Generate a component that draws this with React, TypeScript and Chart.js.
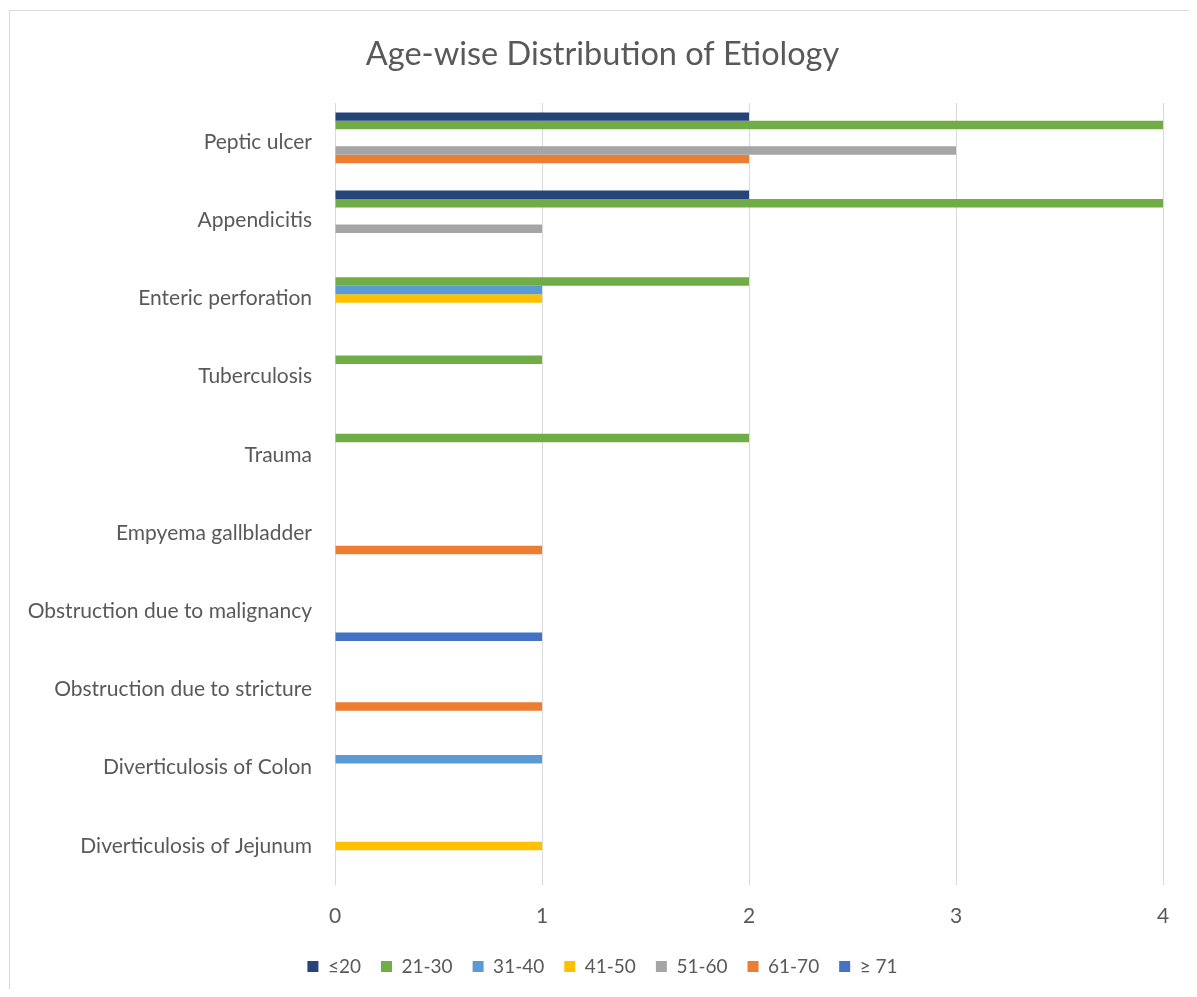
import { useEffect, useRef } from "react";
import { Chart, registerables } from "chart.js";

Chart.register(...registerables);

// Etiologies, top to bottom
const categories = [
  "Peptic ulcer",
  "Appendicitis",
  "Enteric perforation",
  "Tuberculosis",
  "Trauma",
  "Empyema gallbladder",
  "Obstruction due to malignancy",
  "Obstruction due to stricture",
  "Diverticulosis of Colon",
  "Diverticulosis of Jejunum",
];

// Number of cases per age group
const ageUpTo20 = [2, 2, 0, 0, 0, 0, 0, 0, 0, 0];
const age21to30 = [4, 4, 2, 1, 2, 0, 0, 0, 0, 0];
const age31to40 = [0, 0, 1, 0, 0, 0, 0, 0, 1, 0];
const age41to50 = [0, 0, 1, 0, 0, 0, 0, 0, 0, 1];
const age51to60 = [3, 1, 0, 0, 0, 0, 0, 0, 0, 0];
const age61to70 = [2, 0, 0, 0, 0, 1, 0, 1, 0, 0];
const age71plus = [0, 0, 0, 0, 0, 0, 1, 0, 0, 0];

const seriesLabels = ["≤20", "21-30", "31-40", "41-50", "51-60", "61-70", "≥ 71"];
const seriesValues = [ageUpTo20, age21to30, age31to40, age41to50, age51to60, age61to70, age71plus];
const seriesColors = ["#264478", "#70AD47", "#5B9BD5", "#FFC000", "#A5A5A5", "#ED7D31", "#4472C4"];

const xMin = 0;
const xMax = 4;
const xStep = 1;

const TEXT = "#595959";
const GRID = "#d9d9d9";
const FAMILY = "Lato";

export default function App() {
  const canvasRef = useRef<HTMLCanvasElement | null>(null);

  useEffect(() => {
    if (!canvasRef.current) return;
    const chart = new Chart(canvasRef.current, {
      type: "bar",
      data: {
        labels: categories,
        datasets: seriesLabels.map((label, i) => ({
          label,
          data: seriesValues[i],
          backgroundColor: seriesColors[i],
          borderWidth: 0,
          categoryPercentage: 0.76,
          barPercentage: 1,
          xAxisID: "x",
          yAxisID: "y",
        })),
      },
      options: {
        indexAxis: "y",
        responsive: true,
        maintainAspectRatio: false,
        animation: false,
        layout: { padding: { left: 0, right: 0, top: 0, bottom: 7 } },
        scales: {
          x: {
            min: xMin,
            max: xMax,
            ticks: {
              stepSize: xStep,
              padding: 19,
              color: TEXT,
              font: { family: FAMILY, size: 21 },
            },
            grid: { color: GRID, lineWidth: 1, drawTicks: false },
            border: { display: false },
            afterFit: (scale: any) => {
              scale.height = 52;
            },
          },
          y: {
            position: "left",
            grid: { display: false, drawTicks: false },
            border: { display: false },
            ticks: {
              padding: 23,
              color: TEXT,
              font: { family: FAMILY, size: 21 },
            },
            afterFit: (scale: any) => {
              scale.width = 327;
            },
          },
          // empty margin on the right of the plot
          yRight: {
            axis: "y",
            type: "category",
            position: "right",
            grid: { display: false, drawTicks: false },
            border: { display: false },
            ticks: { display: false },
            afterFit: (scale: any) => {
              scale.width = 34;
            },
          },
        },
        plugins: {
          title: {
            display: true,
            text: "Age-wise Distribution of Etiology",
            color: TEXT,
            font: { family: FAMILY, size: 32.5, weight: "normal" },
            padding: { top: 27, bottom: 29 },
          },
          legend: {
            position: "bottom",
            maxHeight: 45,
            labels: {
              boxWidth: 11,
              boxHeight: 11,
              padding: 20,
              color: TEXT,
              font: { family: FAMILY, size: 19 },
            },
          },
          tooltip: { enabled: false },
        },
      } as any,
    });
    return () => chart.destroy();
  }, []);

  return (
    <div style={{ position: "relative", width: 1189, height: 981, overflow: "hidden", background: "#fff" }}>
      <div
        style={{
          position: "absolute",
          left: 1,
          top: 2,
          width: 1300,
          height: 1100,
          border: `1px solid ${GRID}`,
        }}
      />
      <div style={{ position: "absolute", left: 0, top: 0, width: 1189, height: 981 }}>
        <canvas ref={canvasRef} />
      </div>
    </div>
  );
}
